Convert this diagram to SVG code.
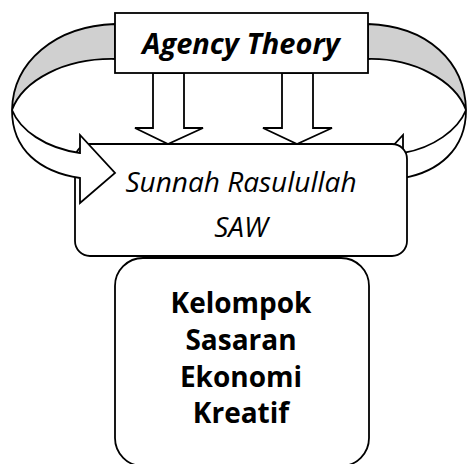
<svg xmlns="http://www.w3.org/2000/svg" width="468" height="464" viewBox="0 0 468 464">
<style>
.s{stroke:#000;stroke-width:1.8;stroke-linejoin:miter}
.w{fill:#fff}
.g{fill:#d0d0d0}
text{font-family:"Open Sans","Noto Sans","DejaVu Sans",sans-serif;fill:#000;text-anchor:middle}
.it{font-style:italic;font-size:28px}
.bd{font-weight:bold;font-size:28px}
.bi{font-weight:bold;font-style:italic;font-size:29px}
</style>
<rect width="468" height="464" fill="#fff"/>
<g id="connectors">
<g id="right-curved-arrow">
<path class="s g" d="M368,24 C428,26 465,62 466,110 C455,80 413,58 368,59 Z"/>
<path class="s w" d="M466,110 C466,150 438,172 403,178 L403,203 L368,173 L403,135 L403,153 C433,148 458,130 466,110 Z"/>
</g>
</g>
<g id="sunnah">
<rect class="s w" x="75" y="144" width="332" height="112" rx="15"/>
<text class="it" x="241" y="192">Sunnah Rasulullah</text>
<text class="it" x="241" y="237">SAW</text>
</g>
<g id="connectors-front">
<g id="left-curved-arrow">
<path class="s g" d="M115,24 C55,26 13,62 12,110 C23,80 65,58 115,59 Z"/>
<path class="s w" d="M12,110 C12,150 40,172 80,178 L80,203 L115,173 L80,135 L80,153 C45,148 20,130 12,110 Z"/>
</g>
<path class="s w" d="M153,73 L184,73 L184,128 L203,128 L168,144 L135,128 L153,128 Z"/>
<path class="s w" d="M282,73 L313,73 L313,128 L332,128 L297,144 L263,128 L282,128 Z"/>
</g>
<g id="agency">
<rect class="s w" x="115" y="13" width="253" height="60"/>
<text class="bi" x="241" y="54">Agency Theory</text>
</g>
<g id="kelompok">
<rect class="s w" x="115" y="258" width="254" height="208" rx="28"/>
<text class="bd" x="241" y="313">Kelompok</text>
<text class="bd" x="241" y="350">Sasaran</text>
<text class="bd" x="241" y="387">Ekonomi</text>
<text class="bd" x="241" y="423">Kreatif</text>
</g>
</svg>
